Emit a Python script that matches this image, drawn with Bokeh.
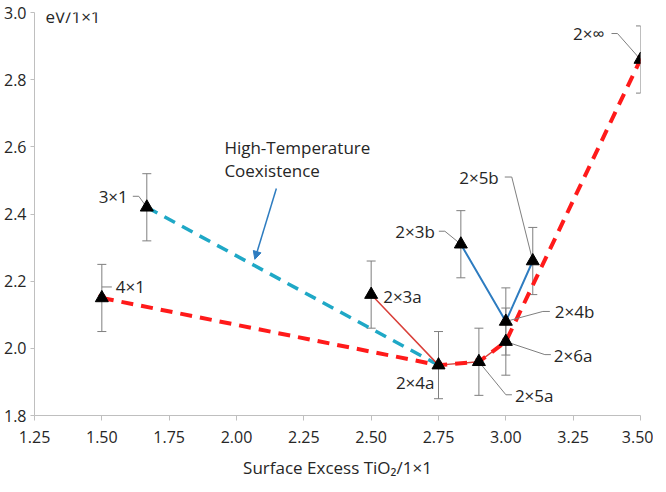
from bokeh.plotting import figure
from bokeh.models import (ColumnDataSource, Whisker, TeeHead, Arrow, NormalHead,
                          Label, FixedTicker, NumeralTickFormatter)
from bokeh.embed import file_html
from bokeh.resources import INLINE
from bokeh.core.properties import value

# ---------------- data ----------------
names  = ["4×1", "3×1", "2×3a", "2×4a", "2×5a", "2×3b", "2×4b", "2×6a", "2×5b", "2×∞"]
excess = [1.50, 1.667, 2.50, 2.75, 2.90, 2.833, 3.00, 3.00, 3.10, 3.50]
energy = [2.15, 2.42, 2.16, 1.95, 1.96, 2.31, 2.08, 2.02, 2.26, 2.86]
err    = [0.10, 0.10, 0.10, 0.10, 0.10, 0.10, 0.10, 0.10, 0.10, 0.10]

red_dashed  = ["4×1", "2×4a", "2×5a", "2×6a", "2×∞"]
red_thin    = ["2×3a", "2×4a", "2×5a", "2×6a"]
blue_thin   = ["2×3b", "2×4b", "2×5b"]
cyan_dashed = ["3×1", "2×4a"]

x_ticks = [1.25, 1.50, 1.75, 2.00, 2.25, 2.50, 2.75, 3.00, 3.25, 3.50]
y_ticks = [1.8, 2.0, 2.2, 2.4, 2.6, 2.8, 3.0]

# annotation anchors (data coords)
arrow_start = (2.148, 2.476)
arrow_end   = (2.068, 2.265)
note_pos    = (1.955, 2.597)

# ---------------- layout ----------------
X0, X1, Y0, Y1 = 1.25, 3.50, 1.8, 3.0
FW, FH = 606, 403
PX = FW / (X1 - X0)
PY = FH / (Y1 - Y0)

FONT = "Open Sans"
TXT = "#262626"

p = figure(frame_width=FW, frame_height=FH, x_range=(X0, X1), y_range=(Y0, Y1),
           output_backend="svg", toolbar_location=None,
           min_border_left=31, min_border_right=13, min_border_top=12, min_border_bottom=61)
p.outline_line_color = None
p.xgrid.visible = False
p.ygrid.visible = False
p.background_fill_color = "white"
p.border_fill_color = "white"

for ax in (p.xaxis[0], p.yaxis[0]):
    ax.axis_line_color = "#bfbfbf"
    ax.major_tick_line_color = "#bfbfbf"
    ax.minor_tick_line_color = None
    ax.major_tick_in = 0
    ax.major_label_text_font = FONT
    ax.major_label_text_font_size = "16px"
    ax.major_label_text_color = TXT
    ax.axis_label_text_font = FONT
    ax.axis_label_text_font_style = "normal"
    ax.axis_label_text_color = TXT

p.xaxis.ticker = FixedTicker(ticks=x_ticks)
p.yaxis.ticker = FixedTicker(ticks=y_ticks)
p.xaxis.formatter = NumeralTickFormatter(format="0.00")
p.yaxis.formatter = NumeralTickFormatter(format="0.0")
p.xaxis.major_tick_out = 5
p.yaxis.major_tick_out = 4
p.xaxis.major_label_standoff = 10
p.yaxis.major_label_standoff = 4
p.xaxis.axis_label = "Surface Excess TiO₂/1×1"
p.xaxis.axis_label_text_font_size = "17px"
p.xaxis.axis_label_standoff = 10

idx = {n: i for i, n in enumerate(names)}
def sel(lst):
    return [excess[idx[n]] for n in lst], [energy[idx[n]] for n in lst]

# error bars
src = ColumnDataSource(dict(x=excess, y=energy,
                            lo=[e - d for e, d in zip(energy, err)],
                            hi=[e + d for e, d in zip(energy, err)]))
w = Whisker(base="x", upper="hi", lower="lo", source=src, dimension="height",
            line_color="#7f7f7f", line_width=1,
            upper_head=TeeHead(size=9, line_color="#7f7f7f", line_width=1),
            lower_head=TeeHead(size=9, line_color="#7f7f7f", line_width=1))
p.add_layout(w)

# lines
xs, ys = sel(cyan_dashed)
p.line(xs, ys, line_color="#1fa8c6", line_width=3.5, line_dash="12 8")
xs, ys = sel(red_thin)
p.line(xs, ys, line_color="#d9403a", line_width=1.5)
xs, ys = sel(blue_thin)
p.line(xs, ys, line_color="#2e7cc0", line_width=2)
xs, ys = sel(red_dashed)
p.line(xs, ys, line_color="#ff1a1a", line_width=4, line_dash="12 8")
p.scatter(xs, ys, marker="x", size=9, line_color="#ff1a1a", line_width=1.5)

# label placement (pixel offsets: dx right, dy up) and leader lines
label_pos = {
    "2×∞":  ("right", -36, 26, [(-29, 26), (-23, 26), (0, 0)]),
    "2×5b": ("right", -34, 84, [(-28, 84), (-21, 84), (0, 0)]),
    "2×3b": ("right", -26, 13, [(-22, 13), (-16, 13), (0, 0)]),
    "2×3a": ("left", 12, -2, []),
    "2×4a": ("right", -4, -17, []),
    "2×5a": ("left", 36, -34, [(0, 0), (27, -33), (33, -33)]),
    "2×6a": ("left", 48, -14, [(0, 0), (39, -13), (45, -13)]),
    "2×4b": ("left", 49, 10, [(0, 0), (37, 10), (44, 10)]),
    "4×1":  ("left", 14, 11, [(0, 11), (10, 11)]),
    "3×1":  ("right", -19, 11, [(-14, 11), (-8, 11), (0, 0)]),
}

lx, ly = [], []
groups = {"left": dict(x=[], y=[], t=[]), "right": dict(x=[], y=[], t=[])}
for n, (al, dx, dy, lead) in label_pos.items():
    x0, y0 = excess[idx[n]], energy[idx[n]]
    g = groups[al]
    g["x"].append(x0 + dx / PX)
    g["y"].append(y0 + dy / PY)
    g["t"].append(n)
    if lead:
        lx.append([x0 + a / PX for a, b in lead])
        ly.append([y0 + b / PY for a, b in lead])

p.multi_line(lx, ly, line_color="#7f7f7f", line_width=1)

# markers
p.scatter(excess, energy, marker="triangle", size=13, fill_color="black", line_color="black")

for al, g in groups.items():
    p.text(g["x"], g["y"], text=g["t"], text_align=al, text_baseline="middle",
           text_font=value(FONT), text_font_size="17px", text_color=TXT)

# annotation
p.add_layout(Arrow(x_start=arrow_start[0], y_start=arrow_start[1],
                   x_end=arrow_end[0], y_end=arrow_end[1],
                   line_color="#2e7cc0", line_width=1.5,
                   end=NormalHead(size=8, fill_color="#2e7cc0", line_color="#2e7cc0")))
p.add_layout(Label(x=note_pos[0], y=note_pos[1], text="High-Temperature",
                   text_baseline="middle", text_font=FONT, text_font_size="17px",
                   text_color=TXT))
p.add_layout(Label(x=note_pos[0], y=note_pos[1] - 23 / PY, text="Coexistence",
                   text_baseline="middle", text_font=FONT, text_font_size="17px",
                   text_color=TXT))
p.add_layout(Label(x=X0 + 11 / PX, y=Y1 - 4 / PY, text="eV/1×1",
                   text_baseline="middle", text_font=FONT, text_font_size="17px",
                   text_color=TXT))

open("out.html", "w").write(file_html(p, INLINE))
